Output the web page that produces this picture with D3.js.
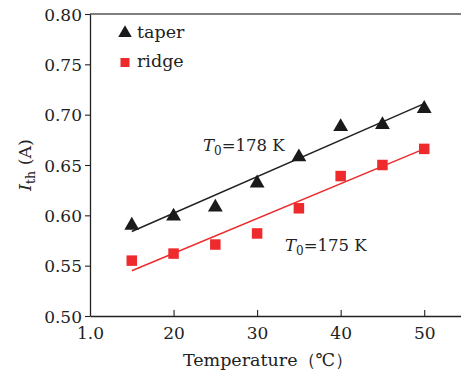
<!DOCTYPE html>
<html><head><meta charset="utf-8">
<script src="https://cdn.jsdelivr.net/npm/d3@7"></script>
<style>body{margin:0;background:#fff}svg{display:block}</style>
</head><body>
<script>
const temps = [15, 20, 25, 30, 35, 40, 45, 50];
const taper = [0.591, 0.600, 0.609, 0.633, 0.659, 0.689, 0.691, 0.707];
const ridge = [0.555, 0.562, 0.571, 0.582, 0.607, 0.639, 0.650, 0.666];
const fitX = [15, 50];
const fitTaper = [0.584, 0.711];
const fitRidge = [0.545, 0.666];
const xTicks = [10, 20, 30, 40, 50];
const xTickLabels = ["1.0", "20", "30", "40", "50"];
const yTicks = [0.50, 0.55, 0.60, 0.65, 0.70, 0.75, 0.80];

const W = 461, H = 375;
const font = "'DejaVu Serif', serif";
const svg = d3.select("body").append("svg").attr("width", W).attr("height", H);
const x = d3.scaleLinear().domain([10, 55]).range([90, 466]);
const y = d3.scaleLinear().domain([0.5, 0.8]).range([316, 14]);

// frame top
svg.append("line").attr("x1", x(10)).attr("x2", W + 5).attr("y1", y(0.8)).attr("y2", y(0.8))
  .attr("stroke", "#555").attr("stroke-width", 1.3);

const xAxis = svg.append("g").attr("transform", `translate(0,${y(0.5)})`)
  .call(d3.axisBottom(x).tickValues(xTicks).tickSizeInner(-6).tickSizeOuter(0)
    .tickFormat((d, i) => xTickLabels[i]));
const yAxis = svg.append("g").attr("transform", `translate(${x(10)},0)`)
  .call(d3.axisLeft(y).tickValues(yTicks).tickSizeInner(5).tickSizeOuter(0)
    .tickFormat(d3.format(".2f")));
[xAxis, yAxis].forEach(g => {
  g.select(".domain").attr("stroke", "#222").attr("stroke-width", 1.3);
  g.selectAll(".tick line").attr("stroke", "#222").attr("stroke-width", 1.1);
  g.selectAll("text").attr("font-family", font).attr("font-size", 17).attr("fill", "#222");
});
xAxis.selectAll("text").attr("dy", "1.2em");
yAxis.selectAll("text").attr("x", -8).attr("dy", "0.36em");
xAxis.select(".tick line").remove();

// fit lines
const line = d3.line().x(d => x(d[0])).y(d => y(d[1]));
svg.append("path").datum(fitX.map((t, i) => [t, fitTaper[i]])).attr("d", line)
  .attr("stroke", "#222").attr("stroke-width", 1.5).attr("fill", "none");
svg.append("path").datum(fitX.map((t, i) => [t, fitRidge[i]])).attr("d", line)
  .attr("stroke", "#ee2a2d").attr("stroke-width", 1.5).attr("fill", "none");

const tri = d3.symbol().type(d3.symbolTriangle).size(95);
svg.selectAll(".tri").data(temps).enter().append("path")
  .attr("d", tri).attr("fill", "#1a1a1a")
  .attr("transform", (d, i) => `translate(${x(d)},${y(taper[i]) + 1})`);
const sq = 10.5;
svg.selectAll(".sq").data(temps).enter().append("rect")
  .attr("x", d => x(d) - sq / 2).attr("y", (d, i) => y(ridge[i]) - sq / 2)
  .attr("width", sq).attr("height", sq).attr("fill", "#ee2a2d");

// legend
svg.append("path").attr("d", d3.symbol().type(d3.symbolTriangle).size(80))
  .attr("transform", "translate(125,33)").attr("fill", "#1a1a1a");
svg.append("rect").attr("x", 120.5).attr("y", 58).attr("width", 9).attr("height", 9).attr("fill", "#ee2a2d");
svg.append("text").attr("x", 137).attr("y", 38).text("taper")
  .attr("font-family", font).attr("font-size", 17.5).attr("fill", "#222");
svg.append("text").attr("x", 137).attr("y", 67).text("ridge")
  .attr("font-family", font).attr("font-size", 17.5).attr("fill", "#222");

// annotations
function t0(xp, yp, val) {
  const t = svg.append("text").attr("x", xp).attr("y", yp)
    .attr("font-family", font).attr("font-size", 16.5).attr("fill", "#222");
  t.append("tspan").attr("font-style", "italic").text("T");
  t.append("tspan").attr("font-size", 12).attr("dy", 4).text("0");
  t.append("tspan").attr("dy", -4).text("=" + val + " K");
}
t0(203, 151, 178);
t0(285, 251, 175);

// axis titles
svg.append("text").attr("x", 268).attr("y", 366).attr("text-anchor", "middle")
  .attr("font-family", font).attr("font-size", 17.5).attr("fill", "#222")
  .text("Temperature（℃）");
const yt = svg.append("text").attr("transform", "translate(31,165) rotate(-90)")
  .attr("text-anchor", "middle").attr("font-family", font).attr("font-size", 17.5).attr("fill", "#222");
yt.append("tspan").attr("font-style", "italic").text("I");
yt.append("tspan").attr("font-size", 12.5).attr("dy", 4).text("th");
yt.append("tspan").attr("dy", -4).text(" (A)");
</script>
</body></html>
